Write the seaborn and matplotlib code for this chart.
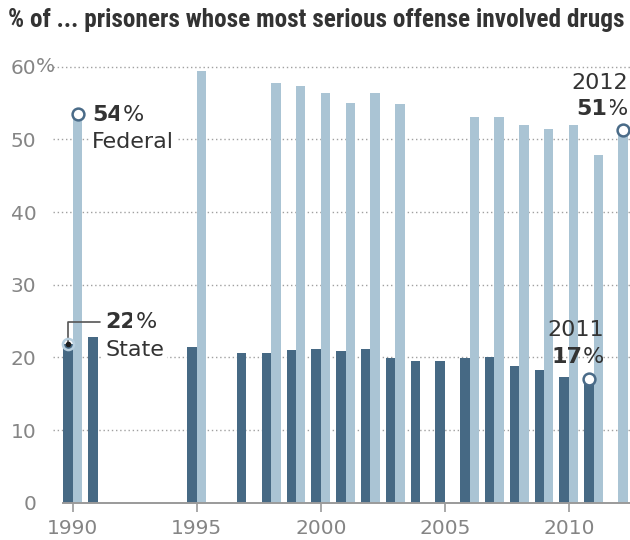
import matplotlib
matplotlib.use("Agg")
import matplotlib.pyplot as plt
import seaborn as sns
import pandas as pd

# Share of prisoners whose most serious offense involved drugs (%)
state_years = [1990, 1991, 1995, 1997, 1998, 1999, 2000, 2001, 2002, 2003,
               2004, 2005, 2006, 2007, 2008, 2009, 2010, 2011]
state_pct = [21.8, 22.8, 21.4, 20.6, 20.6, 21.0, 21.2, 20.9, 21.2, 19.9,
             19.5, 19.5, 19.9, 20.1, 18.8, 18.2, 17.3, 17.0]

federal_years = [1990, 1995, 1998, 1999, 2000, 2001, 2002, 2003,
                 2006, 2007, 2008, 2009, 2010, 2011, 2012]
federal_pct = [53.5, 59.4, 57.7, 57.3, 56.3, 55.0, 56.4, 54.8,
               53.1, 53.1, 52.0, 51.4, 52.0, 47.9, 51.3]

groups = ["State", "Federal"]
y_ticks = [0, 10, 20, 30, 40, 50, 60]
x_ticks = [1990, 1995, 2000, 2005, 2010]

DARK = "#466984"
LIGHT = "#aac4d4"
TEXT = "#333333"
GREY = "#858585"

df = pd.concat([
    pd.DataFrame({"year": state_years, "pct": state_pct, "group": "State"}),
    pd.DataFrame({"year": federal_years, "pct": federal_pct, "group": "Federal"}),
], ignore_index=True)

sns.set_theme(style="white")
plt.rcParams["font.family"] = ["DejaVu Sans"]

fig = plt.figure(figsize=(6.3, 5.4), dpi=100)
ax = fig.add_axes([53 / 630, 1 - 502.8 / 540, 577 / 630, 61 * 7.27 / 540])

sns.barplot(data=df, x="year", y="pct", hue="group", hue_order=groups,
            palette=[DARK, LIGHT], native_scale=True, width=0.76,
            saturation=1, linewidth=0, legend=False, errorbar=None, ax=ax)

ax.set_xlim(1989.2, 2012.47)
ax.set_ylim(0, 61)
ax.set_xlabel("")
ax.set_ylabel("")

# dotted horizontal guides
for v in y_ticks[1:]:
    ax.axhline(v, color="#a0a0a0", lw=1.0, ls=(0, (1, 2)), zorder=0.3)

for side in ["top", "right", "left"]:
    ax.spines[side].set_visible(False)
ax.spines["bottom"].set_color("#9a9a9a")
ax.spines["bottom"].set_linewidth(1.4)
ax.spines["bottom"].set_bounds(1989.6, 2012.47)

ax.set_xticks(x_ticks)
ax.set_xticklabels([str(y) for y in x_ticks])
ax.set_yticks(y_ticks)
ax.set_yticklabels([str(v) for v in y_ticks])
ax.tick_params(axis="x", length=6.5, width=1.2, color="#9a9a9a", direction="out",
               pad=5, labelsize=14.5, labelcolor=GREY, bottom=True)
ax.tick_params(axis="y", length=0, pad=12, labelsize=14.5, labelcolor=GREY)
ax.annotate("%", xy=(0, 60), xycoords=("axes fraction", "data"),
            xytext=(-12.3, 0), textcoords="offset points",
            ha="left", va="center", fontsize=14.5, color=GREY)

box = dict(boxstyle="square,pad=0.15", fc="white", ec="none")


def pct_label(x, y, value, ha, with_box=True):
    num = f"{value:.0f}"
    kw = dict(fontsize=16, color=TEXT, zorder=0.8 if with_box else 6)
    if with_box:
        kw["bbox"] = box
    if ha == "left":
        t = ax.text(x, y, num, ha="left", va="center", fontweight="bold", **kw)
        ax.annotate("%", xy=(1, 0), xycoords=t, ha="left", va="bottom", **kw)
    else:
        t = ax.text(x, y, "%", ha="right", va="center", **kw)
        ax.annotate(num, xy=(0, 0), xycoords=t, ha="right", va="bottom",
                    fontweight="bold", **kw)


# Federal, 1990
fed0 = federal_pct[0]
ax.plot(federal_years[0] + 0.19, fed0, "o", ms=8.5, mfc="white", mec="#4a6b88",
        mew=1.8, zorder=5)
pct_label(1990.77, 53.3, fed0, "left")
ax.text(1990.77, 49.6, "Federal", ha="left", va="center", fontsize=16,
        color=TEXT, bbox=box, zorder=0.8)

# State, 1990
st0 = state_pct[0]
ax.plot([1989.81, 1989.81, 1991.1], [st0, 24.9, 24.9], color="#555555",
        lw=1.2, zorder=4)
ax.plot(state_years[0] - 0.19, st0, "o", ms=8, mfc="none", mec="#b7cfdf",
        mew=1.8, zorder=5)
ax.plot(state_years[0] - 0.19, st0, "o", ms=3, color="#1f1f1f", zorder=6)
pct_label(1991.3, 24.9, st0, "left")
ax.text(1991.3, 21.0, "State", ha="left", va="center", fontsize=16,
        color=TEXT, bbox=box, zorder=0.8)

# Federal, 2012
fed_last = federal_pct[-1]
ax.plot(federal_years[-1] + 0.19, fed_last, "o", ms=8.5, mfc="white",
        mec="#4a6b88", mew=1.8, zorder=5)
ax.text(2012.39, 57.7, str(federal_years[-1]), ha="right", va="center",
        fontsize=16, color=TEXT, bbox=box, zorder=0.8)
pct_label(2012.39, 54.1, fed_last, "right")

# State, 2011
st_last = state_pct[-1]
ax.plot(state_years[-1] - 0.19, st_last, "o", ms=8.5, mfc="white",
        mec="#4a6b88", mew=1.8, zorder=5)
ax.text(2011.42, 23.8, str(state_years[-1]), ha="right", va="center",
        fontsize=16, color=TEXT, zorder=6)
pct_label(2011.42, 20.05, st_last, "right", with_box=False)

fig.text(8 / 630, 1 - 20 / 540,
         "% of ... prisoners whose most serious offense involved drugs",
         ha="left", va="center", fontsize=18.2, fontweight="bold", color=TEXT,
         family=["Liberation Sans Narrow", "Roboto Condensed", "Liberation Sans"])

fig.savefig("out.png", dpi=100)
